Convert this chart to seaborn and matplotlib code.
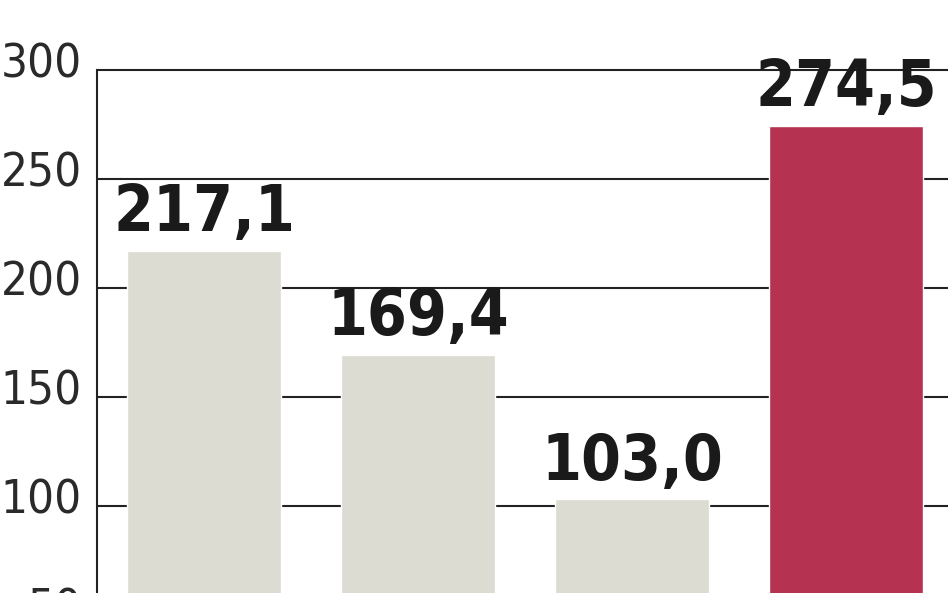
import matplotlib
matplotlib.use("Agg")
import matplotlib.pyplot as plt
import matplotlib.transforms as mtransforms
import seaborn as sns
import pandas as pd

categories = ["A", "B", "C", "D"]
values = [217.1, 169.4, 103.0, 274.5]
labels = ["217,1", "169,4", "103,0", "274,5"]
bar_colors = ["#dcdcd2", "#dcdcd2", "#dcdcd2", "#b53351"]
yticks = [50, 100, 150, 200, 250, 300]

sns.set_theme(style="white")
plt.rcParams['font.family'] = ['DejaVu Sans']
plt.rcParams['font.stretch'] = 'condensed'

df = pd.DataFrame({"cat": categories, "val": values})

fig = plt.figure(figsize=(9.48, 5.93), dpi=100)
ax = fig.add_axes([97/948, -0.0739, 1 - 97/948, 1.0739])

sns.barplot(data=df, x="cat", y="val", hue="cat", palette=bar_colors,
            width=0.72, legend=False, ax=ax, zorder=3, saturation=1)

ax.set_xlim(-0.5, 3.477)
ax.set_ylim(40, 332.1)
ax.set_yticks(yticks)
ax.set_yticklabels([str(t) for t in yticks])
ax.yaxis.grid(True, color="#222222", linewidth=1.5, zorder=0)
ax.set_axisbelow(True)
ax.set_xticks([])
ax.set_xlabel("")
ax.set_ylabel("")
for s in ["top", "right", "bottom"]:
    ax.spines[s].set_visible(False)
ax.spines["left"].set_color("#222222")
ax.spines["left"].set_linewidth(1.5)
ax.spines["left"].set_bounds(40, 300)
ax.tick_params(axis="y", length=0, pad=11, labelsize=34, labelcolor="#2a2a2a")

offset = mtransforms.ScaledTranslation(0, 10/100, fig.dpi_scale_trans)
for lab in ax.get_yticklabels():
    lab.set_transform(lab.get_transform() + offset)
    lab.set_fontweight("light")
    lab.set_fontstretch("condensed")

for i, (v, t) in enumerate(zip(values, labels)):
    ax.annotate(t, (i, v), xytext=(0, 14), textcoords="offset points",
                ha="center", va="baseline", fontsize=46, fontweight="bold",
                fontstretch="condensed", color="#1a1a1a", zorder=5)

fig.savefig("out.png", dpi=100)
